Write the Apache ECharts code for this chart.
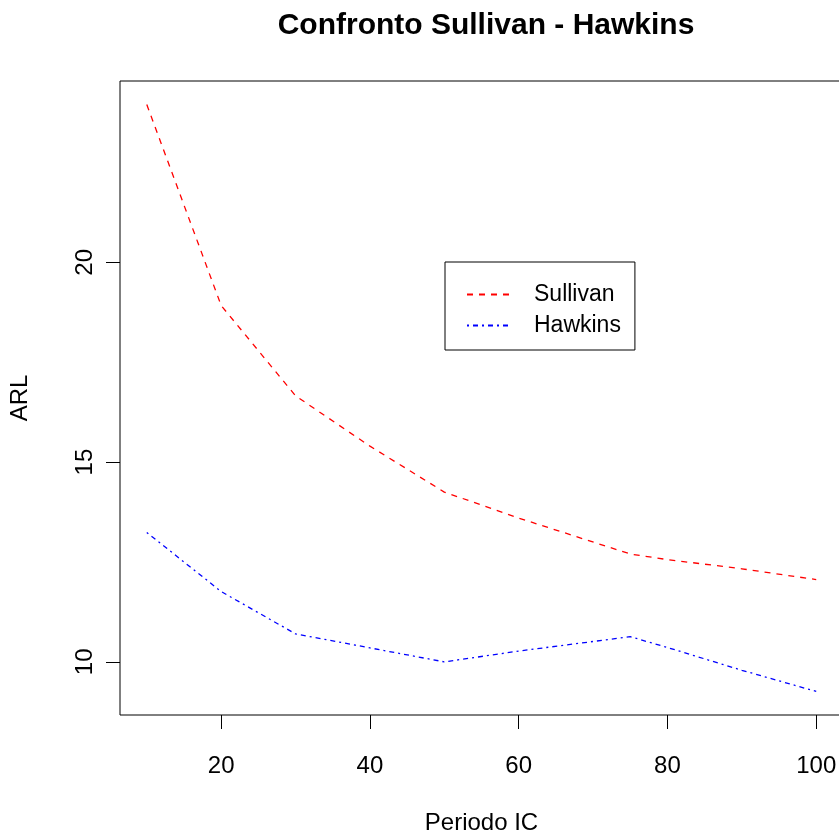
<!DOCTYPE html>
<html><head><meta charset="utf-8">
<script src="https://cdn.jsdelivr.net/npm/echarts@6/dist/echarts.min.js"></script>
<style>html,body{margin:0;padding:0;background:#fff}#c{width:839px;height:834px}</style>
</head><body><div id="c"></div>
<script>
const periods = [10, 20, 30, 40, 50, 60, 75, 80, 90, 100];
const sullivan = [23.95, 18.92, 16.66, 15.40, 14.25, 13.60, 12.70, 12.56, 12.33, 12.06];
const hawkins = [13.24, 11.76, 10.70, 10.35, 10.00, 10.27, 10.63, 10.36, 9.79, 9.26];
const xTicks = [20, 40, 60, 80, 100];
const yTicks = [10, 15, 20];

const font = 'Liberation Sans, Arial, sans-serif';
const chart = echarts.init(document.getElementById('c'));
chart.setOption({
  animation: false,
  backgroundColor: '#fff',
  title: {
    text: 'Confronto Sullivan - Hawkins', left: 481, top: 6, textAlign: 'center',
    textStyle: { fontFamily: font, fontWeight: 'bold', fontSize: 30, color: '#000' }
  },
  grid: { left: 120, top: 81, right: -4, bottom: 119, outerBoundsMode: 'none', containLabel: false,
          show: true, borderColor: '#000', borderWidth: 1, backgroundColor: 'transparent' },
  legend: {
    orient: 'vertical', left: 445, top: 262, padding: [21, 14, 13, 21], itemGap: 8,
    borderColor: '#000', borderWidth: 1, itemWidth: 45, itemHeight: 10,
    itemStyle: { opacity: 0 },
    textStyle: { fontFamily: font, fontSize: 23, color: '#000', padding: [0, 0, 0, 17] },
    data: ['Sullivan', 'Hawkins']
  },
  xAxis: {
    type: 'value', min: 6.4, max: 103.6,
    name: 'Periodo IC', nameLocation: 'middle', nameGap: 96,
    nameTextStyle: { fontFamily: font, fontSize: 24, color: '#000' },
    axisLine: { show: false }, splitLine: { show: false },
    axisTick: { show: true, inside: false, length: 14, lineStyle: { color: '#000' }, customValues: xTicks },
    axisLabel: { fontFamily: font, fontSize: 24, color: '#000', margin: 39, customValues: xTicks }
  },
  yAxis: {
    type: 'value', min: 8.67, max: 24.54,
    name: 'ARL', nameLocation: 'middle', nameGap: 88,
    nameTextStyle: { fontFamily: font, fontSize: 24, color: '#000' },
    axisLine: { show: false }, splitLine: { show: false },
    axisTick: { show: true, length: 14, lineStyle: { color: '#000' }, customValues: yTicks },
    axisLabel: { fontFamily: font, fontSize: 24, color: '#000', margin: 23, rotate: 90, customValues: yTicks }
  },
  series: [
    { name: 'Sullivan', type: 'line', symbol: 'none', color: '#ff0000',
      lineStyle: { color: '#ff0000', width: 1.3, type: [6, 6] },
      data: periods.map((p, i) => [p, sullivan[i]]) },
    { name: 'Hawkins', type: 'line', symbol: 'none', color: '#0000ff',
      lineStyle: { color: '#0000ff', width: 1.3, type: [2, 4, 5, 4] },
      data: periods.map((p, i) => [p, hawkins[i]]) }
  ]
});
</script></body></html>
